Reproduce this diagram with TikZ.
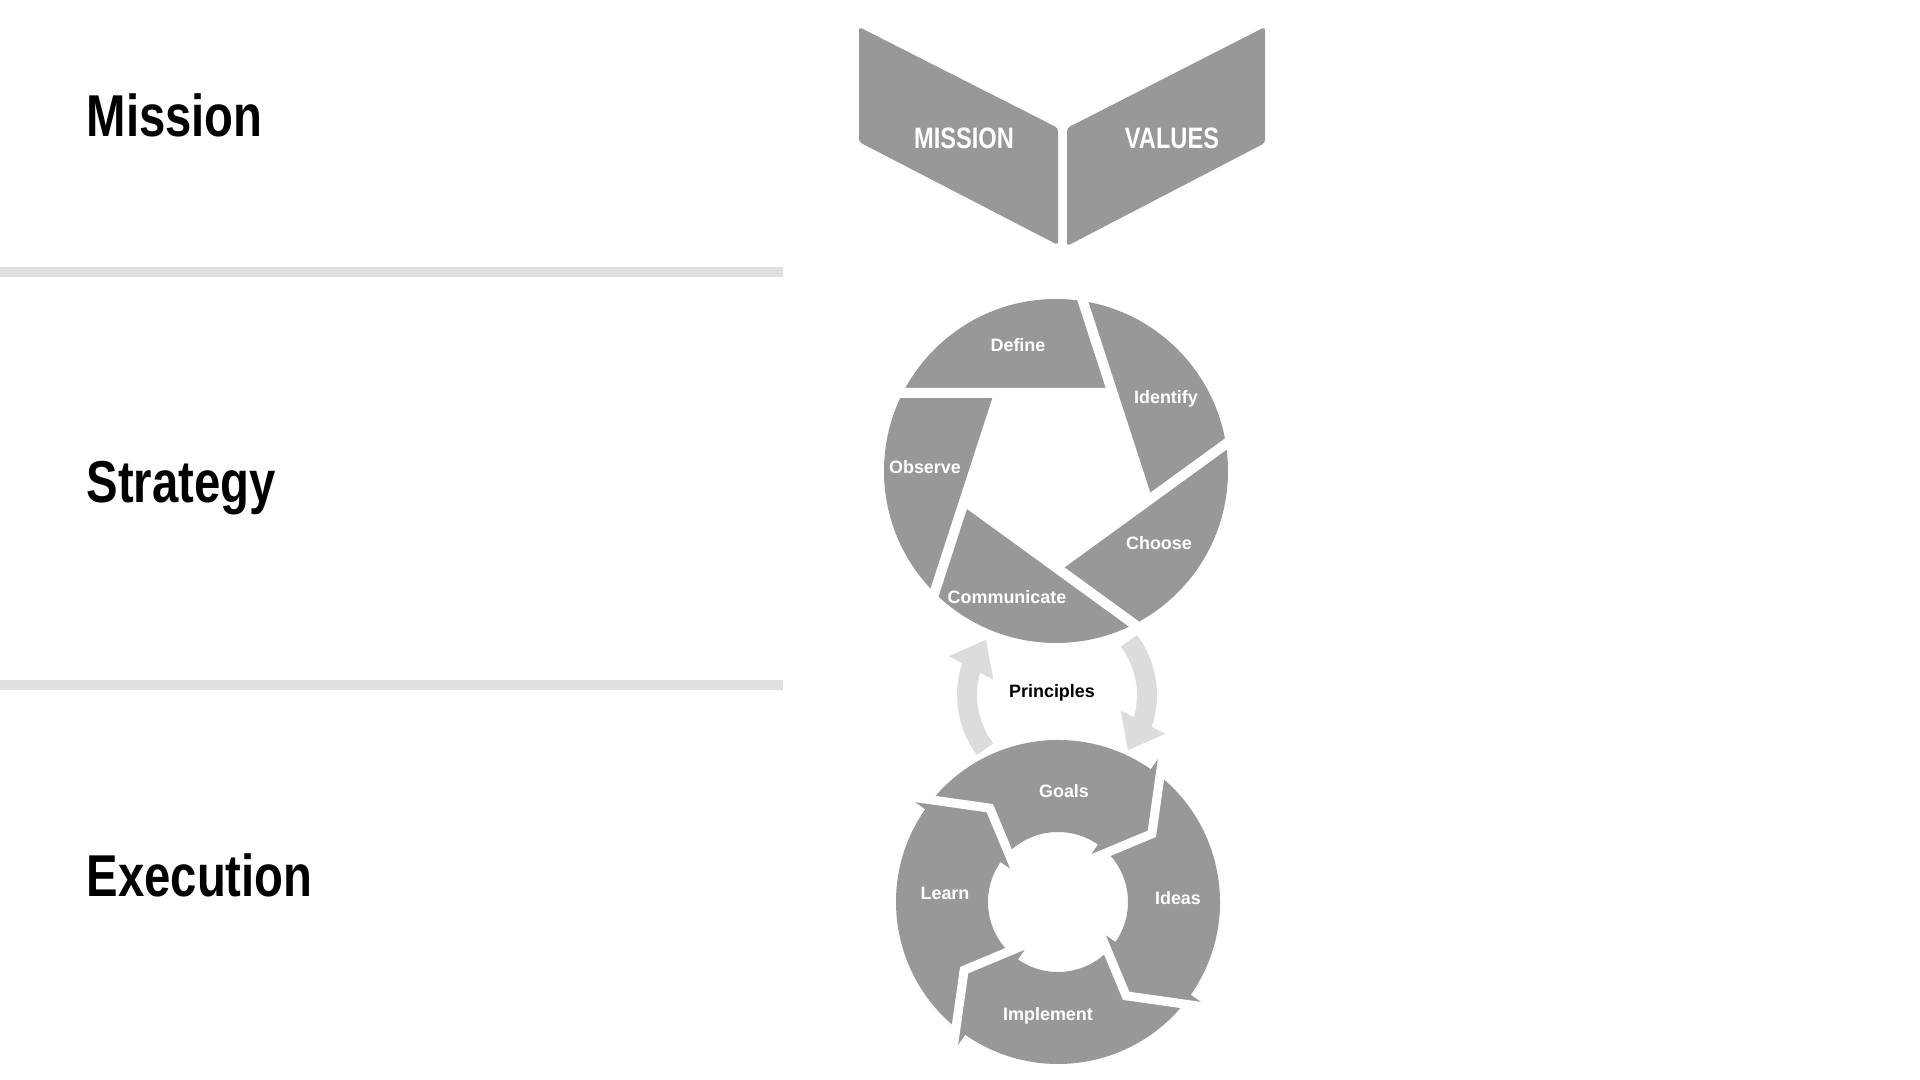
\documentclass[tikz,border=0pt]{standalone}
\usepackage{fontspec}
\setmainfont{Liberation Sans}
\newfontfamily\condfont[FakeStretch=0.8]{Liberation Sans}
\usepackage{tikz}
\usetikzlibrary{arrows.meta,bending,calc,positioning}
\definecolor{bladegray}{RGB}{152,152,152}
\definecolor{rulegray}{RGB}{224,224,226}
\definecolor{cyclegray}{RGB}{220,220,220}
\tikzstyle{levelname} = [font=\condfont\bfseries\fontsize{16.8pt}{20pt}\selectfont,
    anchor=base west, inner sep=0pt]
\tikzstyle{chevron} = [fill=bladegray, rounded corners=0.03cm]
\tikzstyle{chevtext} = [font=\condfont\bfseries\fontsize{8.4pt}{10pt}\selectfont,
    text=white, inner sep=0pt, text height=0.21cm, text depth=0pt]
\tikzstyle{bladetext} = [font=\bfseries\fontsize{5.1pt}{6pt}\selectfont,
    text=white, inner sep=0pt, text height=0.13cm, text depth=0pt]
\tikzstyle{bladecut} = [draw=white, line width=0.1cm]
\tikzstyle{segcut} = [draw=white, line width=0.09cm, miter limit=20]
\tikzstyle{cyclearrow} = [draw=cyclegray, line width=0.2cm,
    -{Triangle[length=0.32cm,width=0.48cm]}]

\begin{document}
\begin{tikzpicture}[x=0.01cm, y=-0.01cm]
  \useasboundingbox (0,0) rectangle (1920,1080);
  \fill[white] (0,0) rectangle (1920,1080);
  \fill[rulegray] (0,267) rectangle (783,277);
  \fill[rulegray] (0,680) rectangle (783,690);
  \node [levelname] (mission) at (86,137) {Mission};
  \node [levelname] (strategy) at (86,503) {Strategy};
  \node [levelname] (execution) at (86,897) {Execution};

  \fill[chevron] (859,27) -- (1058,128) -- (1058,245) -- (859,142) -- cycle;
  \fill[chevron] (1265,27) -- (1067,128) -- (1067,246) -- (1265,143) -- cycle;
  \node [chevtext] (mis) at (964,138) {MISSION};
  \node [chevtext] (val) at (1172,138) {VALUES};

  \begin{scope}[shift={(1056,471)}, yscale=-1]
    \fill[bladegray] (0,0) circle (172);
    \fill[white] (54:96.4) -- (-18:96.4) -- (-90:96.4) -- (-162:96.4) -- (126:96.4) -- cycle;
    \draw[bladecut] (54:96.4) -- ($(90:78)+(180:175)$);
    \draw[bladecut] (-18:96.4) -- ($(18:78)+(108:175)$);
    \draw[bladecut] (-90:96.4) -- ($(-54:78)+(36:175)$);
    \draw[bladecut] (-162:96.4) -- ($(-126:78)+(-36:175)$);
    \draw[bladecut] (126:96.4) -- ($(162:78)+(252:175)$);
  \end{scope}
  \node [bladetext] (def) at (1018,345) {Define};
  \node [bladetext] (ide) at (1166,397) {Identify};
  \node [bladetext] (obs) at (925,467) {Observe};
  \node [bladetext] (cho) at (1159,543) {Choose};
  \node [bladetext] (com) at (1007,597) {Communicate};

  \begin{scope}[shift={(1057,695)}, yscale=-1]
    \draw[cyclearrow] (217:90) arc[start angle=217, end angle=142, radius=90];
    \draw[cyclearrow] (37:90) arc[start angle=37, end angle=-38, radius=90];
  \end{scope}
  \node [bladetext, text=black] (pri) at (1052,691) {Principles};

  \begin{scope}[shift={(1058,902)}, yscale=-1]
    \fill[bladegray] (145:162) arc[start angle=145, end angle=55, radius=162] -- (55:184) -- (36:116)
      -- (55:50) -- (55:70) arc[start angle=55, end angle=145, radius=70] -- (145:50) -- (126:116) -- (145:184) -- cycle;
    \fill[bladegray] (55:162) arc[start angle=55, end angle=-35, radius=162] -- (-35:184) -- (-54:116)
      -- (-35:50) -- (-35:70) arc[start angle=-35, end angle=55, radius=70] -- (55:50) -- (36:116) -- (55:184) -- cycle;
    \fill[bladegray] (-35:162) arc[start angle=-35, end angle=-125, radius=162] -- (-125:184) -- (-144:116)
      -- (-125:50) -- (-125:70) arc[start angle=-125, end angle=-35, radius=70] -- (-35:50) -- (-54:116) -- (-35:184) -- cycle;
    \fill[bladegray] (-125:162) arc[start angle=-125, end angle=-215, radius=162] -- (-215:184) -- (-234:116)
      -- (-215:50) -- (-215:70) arc[start angle=-215, end angle=-125, radius=70] -- (-125:50) -- (-144:116) -- (-125:184) -- cycle;
    \draw[segcut] (55:184) -- (36:116) -- (55:50);
    \draw[segcut] (-35:184) -- (-54:116) -- (-35:50);
    \draw[segcut] (-125:184) -- (-144:116) -- (-125:50);
    \draw[segcut] (145:184) -- (126:116) -- (145:50);
  \end{scope}
  \node [bladetext] (goa) at (1064,791) {Goals};
  \node [bladetext] (ide2) at (1178,898) {Ideas};
  \node [bladetext] (imp) at (1048,1014) {Implement};
  \node [bladetext] (lea) at (945,893) {Learn};
\end{tikzpicture}
\end{document}
